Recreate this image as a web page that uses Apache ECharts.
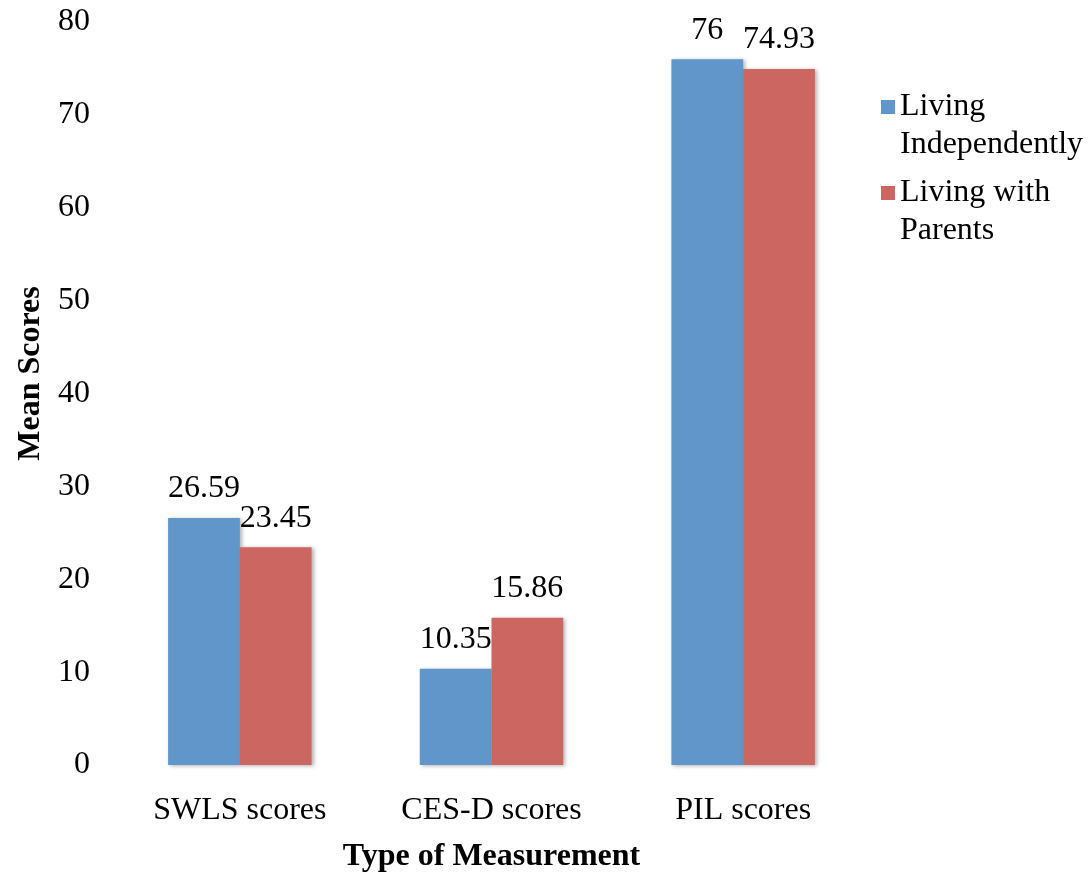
<!DOCTYPE html>
<html><head><meta charset="utf-8">
<script src="https://cdn.jsdelivr.net/npm/echarts@6/dist/echarts.min.js"></script>
<style>html,body{margin:0;padding:0;background:#fff}#c{width:1092px;height:878px}</style>
</head><body><div id="c"></div>
<script>
const categories = ['SWLS scores', 'CES-D scores', 'PIL scores'];
const seriesNames = ['Living\nIndependently', 'Living with\nParents'];
const livingIndependently = [26.59, 10.35, 76];
const livingWithParents = [23.45, 15.86, 74.93];
const colors = ['#6096C9', '#CB6660'];
const font = 'Liberation Serif';
const fs = 32;
const chart = echarts.init(document.getElementById('c'));
const barStyle = (c) => ({color: c, shadowBlur: 4, shadowColor: 'rgba(0,0,0,0.3)', shadowOffsetX: 2, shadowOffsetY: 1});
const lbl = {show: true, position: 'top', distance: 13, color: '#000', fontFamily: font, fontSize: fs};
chart.setOption({
  animation: false,
  grid: {left: 114, right: 223, top: 22, bottom: 111},
  legend: {
    orient: 'vertical', left: 881, top: 50, padding: 0, itemWidth: 14, itemHeight: 14, itemGap: -28, icon: 'rect',
    formatter: (name) => '\u00a0\n' + name,
    textStyle: {fontFamily: font, fontSize: fs, color: '#000', lineHeight: 38}
  },
  xAxis: {
    type: 'category', data: categories,
    axisLine: {show: false}, axisTick: {show: false},
    axisLabel: {fontFamily: font, fontSize: fs, color: '#000', margin: 30},
    name: 'Type of Measurement', nameLocation: 'middle', nameGap: 76,
    nameTextStyle: {fontFamily: font, fontSize: fs, fontWeight: 'bold', color: '#000'}
  },
  yAxis: {
    type: 'value', min: 0, max: 80, interval: 10,
    splitLine: {show: false}, axisLine: {show: false}, axisTick: {show: false},
    axisLabel: {fontFamily: font, fontSize: fs, color: '#000', margin: 24},
    name: 'Mean Scores', nameLocation: 'middle', nameGap: 63,
    nameTextStyle: {fontFamily: font, fontSize: fs, fontWeight: 'bold', color: '#000', padding: [0, 0, 0, 40]}
  },
  series: [
    {name: seriesNames[0], type: 'bar', data: livingIndependently, barGap: '0%', barCategoryGap: '43%', itemStyle: barStyle(colors[0]), label: lbl},
    {name: seriesNames[1], type: 'bar', data: livingWithParents, barGap: '0%', barCategoryGap: '43%', itemStyle: barStyle(colors[1]), label: lbl}
  ]
});
</script></body></html>
